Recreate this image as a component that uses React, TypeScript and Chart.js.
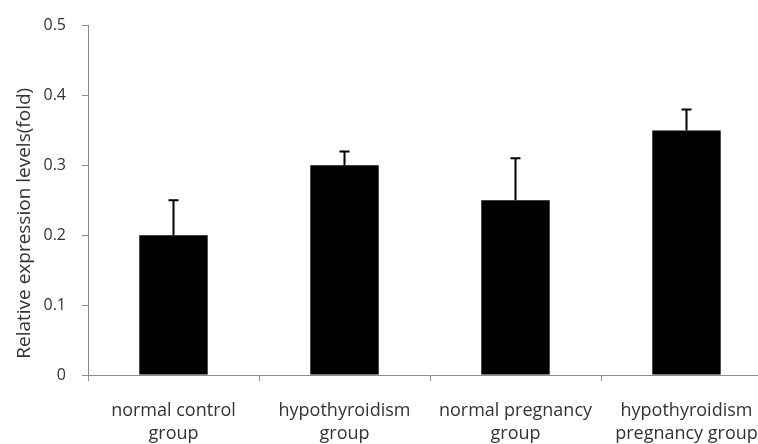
import React, { useEffect, useRef } from "react";
import { Chart, registerables } from "chart.js";

Chart.register(...registerables);

const categories: string[][] = [
  ["normal control", "group"],
  ["hypothyroidism", "group"],
  ["normal pregnancy", "group"],
  ["hypothyroidism", "pregnancy group"],
];
const values: number[] = [0.2, 0.3, 0.25, 0.35];
const errors: number[] = [0.05, 0.02, 0.06, 0.03];
const yTitle = "Relative expression levels(fold)";

const FONT = "'Open Sans', Lato, sans-serif";
const TEXT = "#333333";
const AXIS = "#8c8c8c";

const errorBarPlugin = {
  id: "errorBars",
  afterDatasetsDraw(chart: any) {
    const ctx = chart.ctx;
    const meta = chart.getDatasetMeta(0);
    const yScale = chart.scales.y;
    ctx.save();
    ctx.strokeStyle = "#000";
    ctx.lineWidth = 2;
    meta.data.forEach((bar: any, i: number) => {
      const x = bar.x;
      const yTop = bar.y;
      const yErr = yScale.getPixelForValue(values[i] + errors[i]);
      ctx.beginPath();
      ctx.moveTo(x, yTop);
      ctx.lineTo(x, yErr);
      ctx.moveTo(x - 5, yErr);
      ctx.lineTo(x + 5, yErr);
      ctx.stroke();
    });
    ctx.restore();
  },
};

const yTitlePlugin = {
  id: "yTitleCustom",
  afterDraw(chart: any) {
    const ctx = chart.ctx;
    const area = chart.chartArea;
    ctx.save();
    ctx.translate(25, (area.top + area.bottom) / 2 + 23);
    ctx.rotate(-Math.PI / 2);
    ctx.fillStyle = TEXT;
    ctx.font = `19px ${FONT}`;
    ctx.textAlign = "center";
    ctx.textBaseline = "middle";
    ctx.fillText(yTitle, 0, 0);
    ctx.restore();
  },
};

export default function App() {
  const ref = useRef<HTMLCanvasElement | null>(null);
  useEffect(() => {
    if (!ref.current) return;
    const chart = new Chart(ref.current, {
      type: "bar",
      data: {
        labels: categories,
        datasets: [
          {
            data: values,
            backgroundColor: "#000000",
            borderWidth: 0,
            barPercentage: 0.4,
            categoryPercentage: 1.0,
          },
        ],
      },
      options: {
        responsive: false,
        animation: false,
        layout: { padding: { top: 20, right: 18, left: 0, bottom: 0 } },
        plugins: {
          legend: { display: false },
          tooltip: { enabled: false },
          title: { display: false },
        },
        scales: {
          x: {
            grid: {
              drawOnChartArea: false,
              drawTicks: true,
              tickLength: 6,
              color: AXIS,
              offset: true,
            },
            border: { color: AXIS, width: 1 },
            ticks: {
              color: TEXT,
              font: { family: FONT, size: 18, lineHeight: 1.3 },
              padding: 18,
              maxRotation: 0,
              autoSkip: false,
            },
            afterFit: (s: any) => {
              s.height = 69;
            },
          },
          y: {
            min: 0,
            max: 0.5,
            grid: {
              drawOnChartArea: false,
              drawTicks: true,
              tickLength: 6,
              color: AXIS,
            },
            border: { color: AXIS, width: 1 },
            ticks: {
              stepSize: 0.1,
              color: TEXT,
              font: { family: FONT, size: 16 },
              padding: 16,
            },
            afterFit: (s: any) => {
              s.width = 88;
            },
          },
        },
      },
      plugins: [errorBarPlugin, yTitlePlugin],
    });
    return () => chart.destroy();
  }, []);
  return (
    <div
      style={{
        position: "fixed",
        left: 0,
        top: 0,
        width: 758,
        height: 444,
        overflow: "hidden",
        background: "#fff",
      }}
    >
      <canvas ref={ref} width={790} height={444} style={{ display: "block" }} />
    </div>
  );
}
